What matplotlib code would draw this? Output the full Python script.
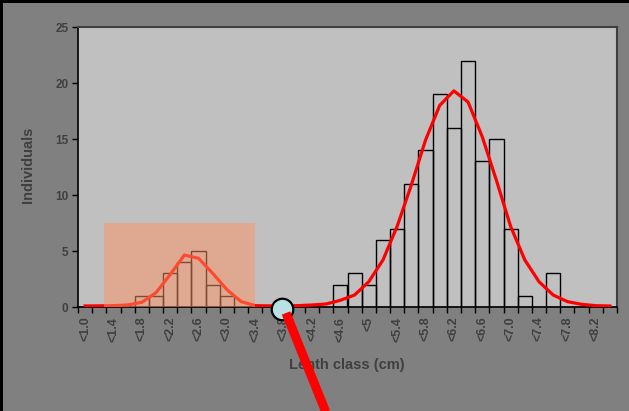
import numpy as np
import matplotlib.pyplot as plt
from matplotlib.lines import Line2D
from matplotlib.patches import Rectangle

plt.rcParams['font.family'] = ['Liberation Sans', 'DejaVu Sans']

# length classes (cm), one per bar
classes = ['<1.0', '<1.2', '<1.4', '<1.6', '<1.8', '<2.0', '<2.2', '<2.4',
           '<2.6', '<2.8', '<3.0', '<3.2', '<3.4', '<3.6', '<3.8', '<4.0',
           '<4.2', '<4.4', '<4.6', '<4.8', '<5', '<5.2', '<5.4', '<5.6',
           '<5.8', '<6.0', '<6.2', '<6.4', '<6.6', '<6.8', '<7.0', '<7.2',
           '<7.4', '<7.6', '<7.8', '<8.0', '<8.2', '<8.4']
counts = [0, 0, 0, 0, 1, 1, 3, 4, 5, 2, 1, 0, 0, 0, 0, 0, 0, 0, 2, 3, 2, 6,
          7, 11, 14, 19, 16, 22, 13, 15, 7, 1, 0, 3, 0, 0, 0, 0]
fitted = [0.09, 0.1, 0.12, 0.18, 0.42, 1.28, 2.9, 4.64, 4.35, 3.0, 1.55,
          0.48, 0.12, 0.1, 0.1, 0.12, 0.18, 0.27, 0.6, 1.07, 2.26, 4.2, 7.2,
          10.9, 14.9, 18.0, 19.3, 18.3, 15.2, 11.3, 7.2, 4.2, 2.26, 1.07,
          0.48, 0.24, 0.12, 0.09]
shown_labels = ['<1.0', '<1.4', '<1.8', '<2.2', '<2.6', '<3.0', '<3.4',
                '<3.8', '<4.2', '<4.6', '<5', '<5.4', '<5.8', '<6.2', '<6.6',
                '<7.0', '<7.4', '<7.8', '<8.2']
y_ticks = [0, 5, 10, 15, 20, 25]

txt = '#404040'
x = np.arange(len(classes))

fig = plt.figure(figsize=(6.29, 4.11), dpi=100, facecolor='#808080')
ax = fig.add_axes([78 / 629, 1 - 307 / 411, 539 / 629, 280 / 411])
ax.set_facecolor('#c0c0c0')

ax.bar(x, counts, width=1.0, facecolor='none', edgecolor='black',
       linewidth=1.0, zorder=2)
ax.plot(x, fitted, color='red', linewidth=2.3, zorder=3)

# highlighted area over the small group
ax.add_patch(Rectangle((1.35, 0), 10.65, 7.5, facecolor='#fc9462',
                       alpha=0.5, edgecolor='none', zorder=4))

ax.set_xlim(-0.5, len(classes) - 0.5)
ax.set_ylim(0, 25)
ax.set_yticks(y_ticks)
ax.set_yticklabels([str(v) for v in y_ticks], fontsize=8.5, fontweight='bold',
                   color=txt)
ax.tick_params(axis='y', length=4, width=1, color='black', pad=3)

label_pos = [classes.index(s) for s in shown_labels]
ax.set_xticks(label_pos)
ax.set_xticklabels(shown_labels, rotation=90, fontsize=9, fontweight='bold',
                   color=txt, va='top', ha='center')
ax.tick_params(axis='x', which='major', length=0, pad=7)
ax.set_xticks(np.arange(-0.5, len(classes), 1.0), minor=True)
ax.tick_params(axis='x', which='minor', length=4, width=1, color='black')

for s in ['left', 'bottom']:
    ax.spines[s].set_color('black')
    ax.spines[s].set_linewidth(1.2)
for s in ['top', 'right']:
    ax.spines[s].set_color('#404040')
    ax.spines[s].set_linewidth(1.5)

fig.text(28 / 629, 1 - 165 / 411, 'Individuals', rotation=90, ha='center',
         va='center', fontsize=10.5, fontweight='bold', color=txt)
fig.text(347 / 629, 1 - 365 / 411, 'Lenth class (cm)', ha='center',
         va='center', fontsize=10.5, fontweight='bold', color=txt)

# black frame strips on the left and top edges
fig.add_artist(Rectangle((0, 0), 3 / 629, 1, transform=fig.transFigure,
                         facecolor='black', edgecolor='none'))
fig.add_artist(Rectangle((0, 1 - 3 / 411), 1, 3 / 411,
                         transform=fig.transFigure, facecolor='black',
                         edgecolor='none'))

# pointer: circle on the axis with a thick red stroke
fig.add_artist(Line2D([282 / 629], [1 - 309 / 411], marker='o',
                      markersize=15.5, markerfacecolor='#b9e0e3',
                      markeredgecolor='black', markeredgewidth=1.6,
                      transform=fig.transFigure, zorder=10))
fig.add_artist(Line2D([286 / 629, 327 / 629], [1 - 313 / 411, 1 - 415 / 411],
                      color='red', linewidth=6.5, solid_capstyle='butt',
                      transform=fig.transFigure, zorder=11))

fig.savefig('out.png', dpi=100, facecolor=fig.get_facecolor())
